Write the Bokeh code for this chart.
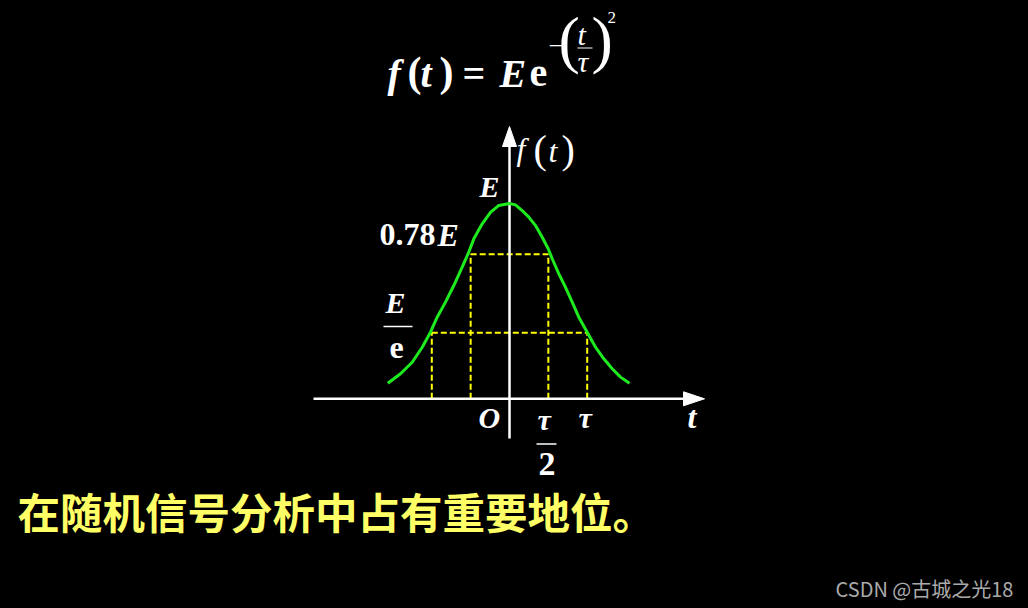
from bokeh.plotting import figure
from bokeh.models import Range1d
from bokeh.core.properties import value
from bokeh.embed import file_html
from bokeh.resources import INLINE

# ---- data (t in units of tau, f in units of E) ----
t_curve = [-1.566, -1.403, -1.252, -1.123, -1.017, -0.931, -0.824, -0.717,
           -0.609, -0.524, -0.459, -0.351, -0.245, -0.138, 0.0, 0.077, 0.163,
           0.248, 0.335, 0.421, 0.498, 0.550, 0.635, 0.721, 0.807, 0.892,
           1.000, 1.107, 1.214, 1.322, 1.429, 1.544]
f_curve = [0.080, 0.128, 0.187, 0.264, 0.341, 0.418, 0.495, 0.580, 0.674,
           0.751, 0.819, 0.896, 0.955, 0.990, 1.000, 0.993, 0.964, 0.930,
           0.887, 0.827, 0.768, 0.717, 0.640, 0.571, 0.495, 0.418, 0.341,
           0.264, 0.205, 0.154, 0.111, 0.080]
mark_t = [-1.0, -0.5, 0.5, 1.0]          # -tau, -tau/2, tau/2, tau
mark_level = [0.338, 0.74, 0.74, 0.338]   # E/e and 0.78E guide heights
guide_x0 = [-1.0, -0.5]
guide_x1 = [1.0, 0.5]
guide_y = [0.338, 0.74]
caption = "在随机信号分析中占有重要地位。"
watermark = "CSDN @古城之光18"

# ---- layout (page pixels; the page renders with no margin) ----
W, H = 1028, 608
OX, OY = 509.0, 398.3
TAU_PX, E_PX = 77.7, 195.3


def X(px):
    return (px - OX) / TAU_PX


def Y(py):
    return (OY - py) / E_PX


p = figure(width=W, height=H,
           x_range=Range1d(X(0), X(W)), y_range=Range1d(Y(H), Y(0)),
           x_axis_type=None, y_axis_type=None,
           output_backend="svg", toolbar_location=None, min_border=0,
           background_fill_color="black", border_fill_color="black",
           outline_line_color=None)
p.grid.visible = False

YELLOW = "#FFFF00"
GREEN = "#1EEB1E"

# dashed guides
p.segment(x0=mark_t, y0=[0] * len(mark_t), x1=mark_t, y1=mark_level,
          line_color=YELLOW, line_width=2, line_dash="6 3")
p.segment(x0=guide_x0, y0=guide_y, x1=guide_x1, y1=guide_y,
          line_color=YELLOW, line_width=2, line_dash="6 3")

# axes
p.segment(x0=[X(313)], y0=[0], x1=[X(688)], y1=[0], line_color="white", line_width=2.5)
p.segment(x0=[0], y0=[Y(438)], x1=[0], y1=[Y(142)], line_color="white", line_width=2.5)
p.patches(xs=[[X(683), X(704), X(683)], [X(502), 0, X(516)]],
          ys=[[Y(391.3), 0, Y(405.3)], [Y(146), Y(126), Y(146)]],
          fill_color="white", line_color="white", line_width=1)

# curve
p.line(t_curve, f_curve, line_color=GREEN, line_width=3)


def txt(px, py, s, size, style="bold italic", font="Liberation Serif",
        color="white", align="left", baseline="alphabetic", corr=0.36):
    # corr: empirical shift so that py is the visual baseline
    p.text(x=[X(px)], y=[Y(py - corr * size)], text=[s], text_font=value(font),
           text_font_size=f"{size}px", text_font_style=style,
           text_color=color, text_align=align, text_baseline=baseline)


def hline(x0, x1, py, w=1.5):
    p.segment(x0=[X(x0)], y0=[Y(py)], x1=[X(x1)], y1=[Y(py)],
              line_color="white", line_width=w)


# title formula f(t) = E e^{-(t/tau)^2}
txt(387, 87, "f", 40)
txt(407, 87, "(", 42, "bold")
txt(420, 87, "t", 40)
txt(439, 87, ")", 42, "bold")
txt(462, 87, "=", 40, "bold")
txt(499, 87, "E", 40)
txt(529, 87, "e", 40, "bold")
txt(548, 54, "\u2212", 25, "normal")
txt(558, 62, "(", 64, "normal")
txt(577, 45, "t", 30, "italic")
hline(577, 592, 47.5, 1.2)
txt(577, 72, "\u03c4", 30, "italic")
txt(591, 62, ")", 64, "normal")
txt(607, 23, "2", 17, "normal")

# axis label f(t)
txt(516, 160, "f", 32, "italic")
txt(533, 163, "(", 40, "normal")
txt(548, 162, "t", 32, "italic")
txt(561, 163, ")", 40, "normal")

# value labels
txt(479, 197, "E", 30)
txt(379, 246, "0.78", 32, "bold")
txt(437, 246, "E", 32)
txt(385, 313, "E", 30)
hline(383, 412, 326)
txt(389, 359, "e", 32, "bold")

# t-axis labels
txt(478, 428, "O", 30)
txt(537, 430, "\u03c4", 30)
hline(536, 556, 443.5)
txt(538, 476, "2", 34, "bold")
txt(578, 428, "\u03c4", 30)
txt(687, 428, "t", 32)

# caption and watermark
txt(17, 517, caption, 42.5, "bold", "Noto Sans CJK SC", "#FFFF66",
    baseline="middle", corr=0.17)
txt(835, 589, watermark, 20, "normal", "Noto Sans CJK SC", "#AAAAAA",
    baseline="middle", corr=0.05)

html = file_html(p, INLINE, title="Gaussian pulse")
html = html.replace("</head>", "<style>html,body{background:#000;margin:0;overflow:hidden;}</style></head>", 1)
open("out.html", "w").write(html)
